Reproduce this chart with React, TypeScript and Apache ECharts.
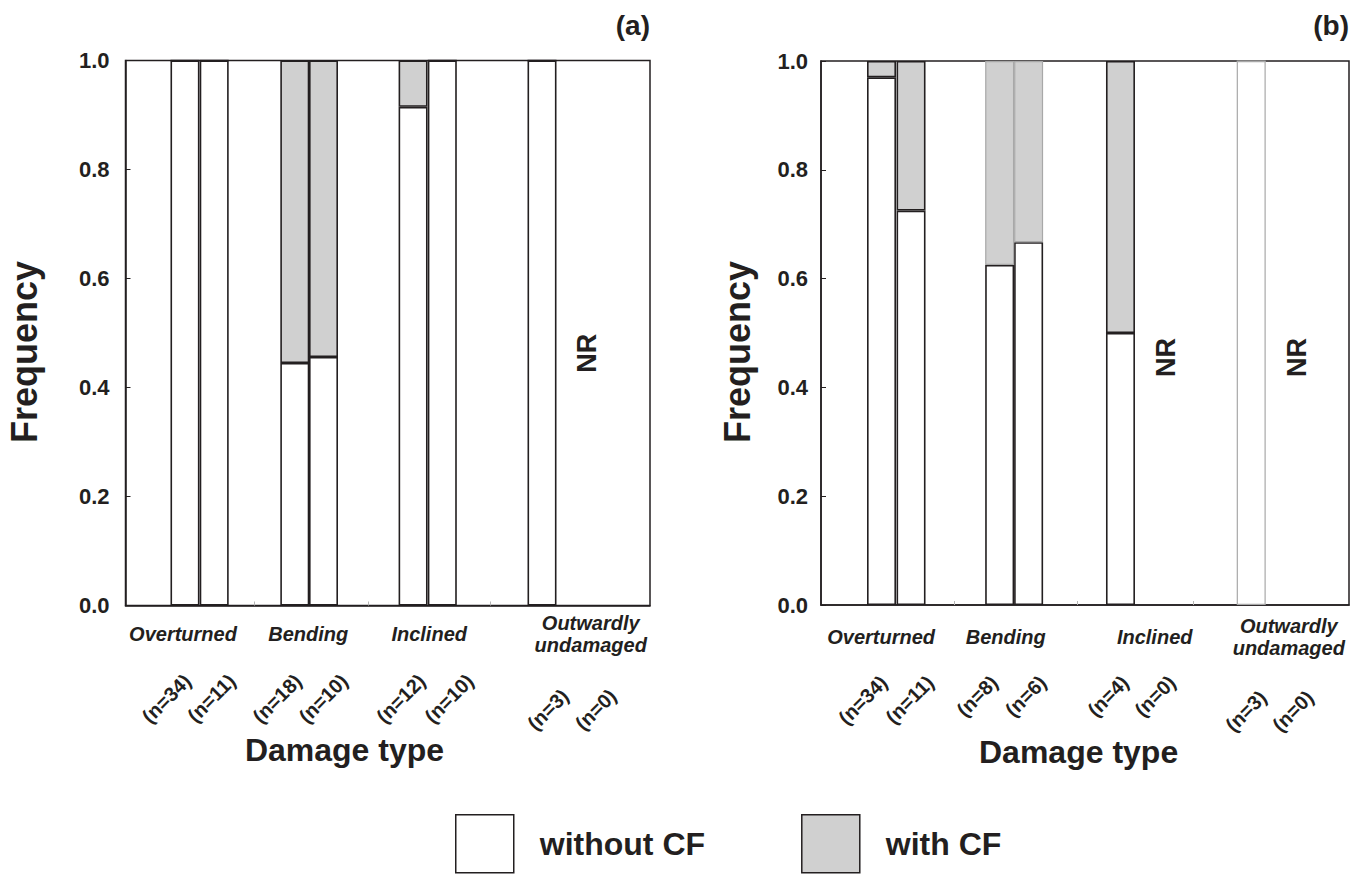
import React, { useEffect, useRef } from "react";
import * as echarts from "echarts";

// ---------- data ----------
const groups = ["Overturned", "Bending", "Inclined", "Outwardly\nundamaged"];

const nLabelsA = ["(n=34)", "(n=11)", "(n=18)", "(n=10)", "(n=12)", "(n=10)", "(n=3)", "(n=0)"];
const nLabelsB = ["(n=34)", "(n=11)", "(n=8)", "(n=6)", "(n=4)", "(n=0)", "(n=3)", "(n=0)"];

// frequency per bar (null = NR, no record)
const withoutCF_A = [1.0, 1.0, 0.445, 0.456, 0.915, 1.0, 1.0, null];
const withCF_A = [0, 0, 0.555, 0.544, 0.085, 0, 0, null];
const withoutCF_B = [0.97, 0.725, 0.625, 0.667, 0.5, null, 1.0, null];
const withCF_B = [0.03, 0.275, 0.375, 0.333, 0.5, null, 0, null];

// ---------- layout (x axis units 0..100) ----------
const barPosA = [11.34, 16.91, 32.28, 37.75, 54.83, 60.4, 79.41, 84.75];
const barPosB = [11.46, 17.05, 33.84, 39.32, 56.72, 62.12, 81.48, 86.93];
const groupPosA = [10.96, 34.85, 57.9, 88.7];
const groupPosB = [11.4, 35.0, 63.2, 88.6];
const groupTickA = [24.6, 46.2, 69.5];
const groupTickB = [25.15, 48.5, 70.45];
const nPosA = [11.8, 20.3, 32.9, 41.7, 56.5, 65.7, 83.8, 92.9];
const nPosB = [11.9, 20.7, 32.8, 42.0, 57.6, 66.5, 83.7, 92.6];

const FONT = "'Liberation Sans', Arial, Helvetica, sans-serif";
const INK = "#231f20";
const GRAY = "#d0d0d0";
const BAR_BORDER = 1.6;

function nearest(v: number, pos: number[], labels: string[]) {
  let best = 0;
  for (let i = 1; i < pos.length; i++) if (Math.abs(pos[i] - v) < Math.abs(pos[best] - v)) best = i;
  return labels[best];
}

type Panel = {
  grid: any;
  barPos: number[];
  without: (number | null)[];
  withCF: (number | null)[];
  groupPos: number[];
  groupTick: number[];
  nPos: number[];
  nLabels: string[];
  groupMargin: number;
  upperMargin: number;
  lowerMargin: number;
  yMargin: number;
  lightWhite: number[];
  lightGray: number[];
  nrY: number;
};

const panels: Panel[] = [
  {
    grid: { left: 125.5, top: 60.5, width: 524.5, height: 545 },
    barPos: barPosA,
    without: withoutCF_A,
    withCF: withCF_A,
    groupPos: groupPosA,
    groupTick: groupTickA,
    nPos: nPosA,
    nLabels: nLabelsA,
    groupMargin: 28,
    upperMargin: 72,
    lowerMargin: 87,
    yMargin: 16,
    lightWhite: [],
    lightGray: [],
    nrY: 0.463,
  },
  {
    grid: { left: 821, top: 61, width: 528, height: 544 },
    barPos: barPosB,
    without: withoutCF_B,
    withCF: withCF_B,
    groupPos: groupPosB,
    groupTick: groupTickB,
    nPos: nPosB,
    nLabels: nLabelsB,
    groupMargin: 32,
    upperMargin: 74,
    lowerMargin: 89,
    yMargin: 13,
    lightWhite: [6],
    lightGray: [2, 3],
    nrY: 0.455,
  },
];

const NR_SHIFT = 3.2;

function buildOption() {
  const grids: any[] = [];
  const xAxes: any[] = [];
  const yAxes: any[] = [];
  const series: any[] = [];

  panels.forEach((p, k) => {
    grids.push({
      ...p.grid,
      show: true,
      borderColor: INK,
      borderWidth: 1.5,
      backgroundColor: "transparent",
      containLabel: false,
    });
    const base = k * 3;
    const upperIdx = [0, 1, 2, 3, 4, 5];
    const lowerIdx = [6, 7];
    xAxes.push({
      type: "value",
      gridIndex: k,
      min: 0,
      max: 100,
      axisLine: { show: true, lineStyle: { color: INK, width: 1.5 } },
      axisTick: {
        show: true,
        customValues: p.groupTick,
        inside: true,
        length: 4,
        lineStyle: { color: "#b5b5b5", width: 1 },
      },
      axisLabel: {
        customValues: p.groupPos,
        formatter: (v: number) => nearest(v, p.groupPos, groups),
        fontFamily: FONT,
        fontSize: 20,
        fontWeight: "bold",
        fontStyle: "italic",
        color: INK,
        lineHeight: 22,
        verticalAlign: "middle",
        margin: p.groupMargin,
      },
      splitLine: { show: false },
    });
    [upperIdx, lowerIdx].forEach((idx, j) => {
      const pos = idx.map((i) => p.nPos[i]);
      const labs = idx.map((i) => p.nLabels[i]);
      xAxes.push({
        type: "value",
        gridIndex: k,
        position: "bottom",
        min: 0,
        max: 100,
        axisLine: { show: false },
        axisTick: { show: false },
        splitLine: { show: false },
        axisLabel: {
          customValues: pos,
          formatter: (v: number) => nearest(v, pos, labs),
          rotate: 45,
          fontFamily: FONT,
          fontSize: 20,
          fontWeight: "bold",
          color: INK,
          margin: j === 0 ? p.upperMargin : p.lowerMargin,
        },
      });
    });
    yAxes.push({
      type: "value",
      gridIndex: k,
      min: 0,
      max: 1,
      interval: 0.2,
      axisLine: { show: true, lineStyle: { color: INK, width: 1.5 } },
      axisTick: { show: true, inside: true, length: 5, lineStyle: { color: INK, width: 1 } },
      axisLabel: {
        formatter: (v: number) => v.toFixed(1),
        fontFamily: FONT,
        fontSize: 22,
        fontWeight: "bold",
        color: INK,
        margin: p.yMargin,
      },
      splitLine: { show: false },
    });

    const idx = p.without.map((v, i) => (v == null ? -1 : i)).filter((i) => i >= 0);
    const nrIdx = p.without.map((v, i) => (v == null ? i : -1)).filter((i) => i >= 0);
    const stack = "s" + k;

    // data items are [frequency, xPosition]; encode maps them so that the
    // frequency dimension is the one that gets stacked (by index).
    series.push({
      type: "bar",
      name: "without CF",
      xAxisIndex: base,
      yAxisIndex: k,
      stack,
      barWidth: 29,
      dimensions: ["freq", "pos"],
      encode: { x: 1, y: 0 },
      itemStyle: { color: "#ffffff", borderColor: INK, borderWidth: BAR_BORDER },
      data: idx.map((i) => ({
        value: [p.without[i], p.barPos[i]],
        itemStyle: p.lightWhite.includes(i) ? { borderColor: "#a8a8a8", borderWidth: 1.2 } : undefined,
      })),
    });
    series.push({
      type: "bar",
      name: "with CF",
      xAxisIndex: base,
      yAxisIndex: k,
      stack,
      barWidth: 29,
      dimensions: ["freq", "pos"],
      encode: { x: 1, y: 0 },
      itemStyle: { color: GRAY, borderColor: INK, borderWidth: BAR_BORDER },
      data: idx.map((i) => ({
        value: [p.withCF[i], p.barPos[i]],
        itemStyle:
          p.lightGray.includes(i) || p.lightWhite.includes(i)
            ? { borderColor: "#a8a8a8", borderWidth: 1.2 }
            : undefined,
      })),
    });
    series.push({
      type: "scatter",
      xAxisIndex: base,
      yAxisIndex: k,
      symbolSize: 1,
      itemStyle: { color: "rgba(0,0,0,0)", opacity: 1 },
      silent: true,
      label: {
        show: true,
        position: "inside",
        formatter: "NR",
        rotate: 90,
        fontFamily: FONT,
        fontSize: 27,
        fontWeight: "bold",
        color: INK,
        opacity: 1,
      },
      data: nrIdx.map((i) => [p.barPos[i] + NR_SHIFT, p.nrY]),
    });
  });

  const txt = (text: string, x: number, y: number, size: number, rot = 0, align = "center") => ({
    type: "text",
    x,
    y,
    rotation: rot,
    silent: true,
    style: {
      text,
      fontFamily: FONT,
      fontSize: size,
      fontWeight: "bold",
      fill: INK,
      align,
      verticalAlign: "middle",
    },
  });

  return {
    animation: false,
    backgroundColor: "#ffffff",
    grid: grids,
    xAxis: xAxes,
    yAxis: yAxes,
    series,
    legend: {
      data: ["without CF", "with CF"],
      left: 455,
      top: 814,
      padding: 0,
      icon: "rect",
      itemWidth: 58,
      itemHeight: 58,
      itemGap: 96,
      selectedMode: false,
      itemStyle: { borderWidth: 1.5, borderColor: INK },
      textStyle: {
        fontFamily: FONT,
        fontSize: 32,
        fontWeight: "bold",
        color: INK,
        padding: [0, 0, 0, 21],
      },
    },
    graphic: [
      txt("(a)", 650, 25, 28, 0, "right"),
      txt("(b)", 1349, 25, 28, 0, "right"),
      txt("Frequency", 24, 352, 36, Math.PI / 2),
      txt("Frequency", 737, 352, 36, Math.PI / 2),
      txt("Damage type", 344.5, 750, 32),
      txt("Damage type", 1078.6, 752, 32),
    ],
  };
}

export default function App() {
  const ref = useRef<HTMLDivElement>(null);
  useEffect(() => {
    const chart = echarts.init(ref.current!, undefined, { renderer: "svg" });
    chart.setOption(buildOption() as any);
    return () => chart.dispose();
  }, []);
  return (
    <div
      ref={ref}
      style={{ position: "absolute", left: 0, top: 0, width: 1362, height: 876, background: "#fff" }}
    />
  );
}
